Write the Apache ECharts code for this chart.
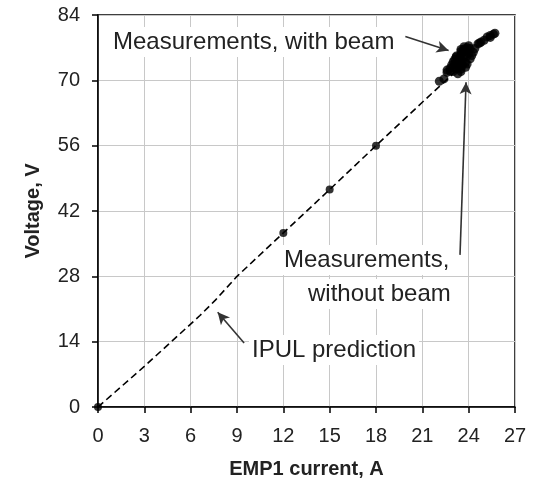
<!DOCTYPE html>
<html>
<head>
<meta charset="utf-8">
<script src="https://cdn.jsdelivr.net/npm/echarts@6/dist/echarts.min.js"></script>
<style>html,body{margin:0;padding:0;background:#fff;}#c{width:535px;height:486px;}</style>
</head>
<body>
<div id="c"></div>
<script>
// X axis ticks (EMP1 current, A) and Y axis ticks (Voltage, V)
const xTicks = [0, 3, 6, 9, 12, 15, 18, 21, 24, 27];
const yTicks = [0, 14, 28, 42, 56, 70, 84];

// IPUL prediction (dashed line)
const predictionI = [0, 3, 6.6, 7.6, 9, 12, 15, 18, 21, 23.5];
const predictionV = [0, 8.7, 19.6, 22.9, 28, 37.3, 46.6, 56, 65.3, 73];

// Isolated measurements along the line
const measI = [0, 12, 15, 18];
const measV = [0, 37.3, 46.6, 56];

// Cluster of measurements near 22-26 A
const clusterI = [22.1, 22.4, 22.6, 22.6, 22.8, 23.0, 23.3, 23.5,
  22.8, 23.0, 22.9, 23.1, 23.2, 23.4, 23.5, 23.6, 23.3, 23.1, 23.4, 23.6, 23.8, 23.7, 23.5, 23.9, 23.6, 23.8, 24.0, 24.1, 23.9, 23.7, 24.1, 23.9,
  23.2, 23.5, 23.7, 24.0, 23.4, 23.0, 23.2, 23.5, 24.3, 24.2, 24.4, 23.8,
  24.6, 24.8, 25.0, 24.7, 25.2, 25.4, 25.6, 25.7, 25.4];
const clusterV = [69.8, 70.3, 71.7, 72.2, 72.0, 71.9, 71.4, 71.9,
  72.6, 72.8, 73.3, 73.6, 72.5, 72.9, 72.4, 73.2, 74.0, 74.5, 74.8, 74.2, 73.8, 75.0, 75.5, 75.2, 76.0, 76.4, 75.8, 76.8, 77.0, 76.7, 74.6, 73.5,
  75.2, 76.2, 77.2, 77.4, 73.9, 74.0, 75.0, 76.6, 76.0, 75.3, 76.8, 72.8,
  77.8, 78.2, 78.6, 78.0, 79.3, 79.6, 79.9, 80.1, 79.2];

const zip = (a, b) => a.map((v, i) => [v, b[i]]);

const chart = echarts.init(document.getElementById('c'), null, {renderer: 'canvas'});
const txt = '#222';
const font = '"Liberation Sans", Arial, sans-serif';
const arrowStyle = {color: '#333', width: 1.6, type: 'solid'};

function note(text, x, y) {
  return {type: 'text', x: x, y: y, z: 50,
    style: {text: text, fontFamily: font, fontSize: 24, fill: txt, verticalAlign: 'middle', align: 'left',
      backgroundColor: '#fff', padding: [3, 3, 3, 3]}};
}

chart.setOption({
  animation: false,
  backgroundColor: '#fff',
  grid: {left: 98, right: 20, top: 15, bottom: 79, show: true, borderColor: '#000', borderWidth: 1.5},
  xAxis: {
    type: 'value', min: 0, max: 27, interval: 3,
    name: 'EMP1 current, A', nameLocation: 'middle', nameGap: 52,
    nameTextStyle: {fontFamily: font, fontSize: 20, fontWeight: 'bold', color: txt},
    axisLine: {show: true, lineStyle: {color: '#000', width: 1.5}},
    axisTick: {show: true, length: 6, lineStyle: {color: '#000', width: 1.5}},
    axisLabel: {fontFamily: font, fontSize: 20, color: txt, margin: 19},
    splitLine: {show: true, lineStyle: {color: '#c8c8c8', width: 1}}
  },
  yAxis: {
    type: 'value', min: 0, max: 84, interval: 14,
    name: 'Voltage, V', nameLocation: 'middle', nameGap: 55, nameRotate: 90,
    nameTextStyle: {fontFamily: font, fontSize: 20, fontWeight: 'bold', color: txt},
    axisLine: {show: true, lineStyle: {color: '#000', width: 1.5}},
    axisTick: {show: true, length: 6, lineStyle: {color: '#000', width: 1.5}},
    axisLabel: {fontFamily: font, fontSize: 20, color: txt, margin: 18},
    splitLine: {show: true, lineStyle: {color: '#c8c8c8', width: 1}}
  },
  series: [
    {
      type: 'line', name: 'IPUL prediction', data: zip(predictionI, predictionV),
      showSymbol: false, lineStyle: {color: '#000', width: 1.6, type: [7, 4]}, z: 2,
      markLine: {
        silent: true, symbol: ['none', 'arrow'], symbolSize: [9, 12],
        label: {show: false}, lineStyle: arrowStyle,
        data: [
          [{coord: [19.9, 79.4]}, {coord: [22.7, 76.4]}],
          [{coord: [23.44, 32.6]}, {coord: [23.83, 69.6]}],
          [{coord: [9.46, 13.7]}, {coord: [7.75, 20.3]}]
        ]
      }
    },
    {
      type: 'scatter', name: 'meas', data: zip(measI, measV),
      symbol: 'circle', symbolSize: 8, itemStyle: {color: '#000'}, z: 3
    },
    {
      type: 'scatter', name: 'cluster', data: zip(clusterI, clusterV),
      symbol: 'circle', symbolSize: 9, itemStyle: {color: '#000'}, z: 3
    }
  ],
  graphic: [
    note('Measurements, with beam', 110, 42),
    note('Measurements,', 281, 260),
    note('without beam', 305, 294),
    note('IPUL prediction', 249, 350)
  ]
});
</script>
</body>
</html>
